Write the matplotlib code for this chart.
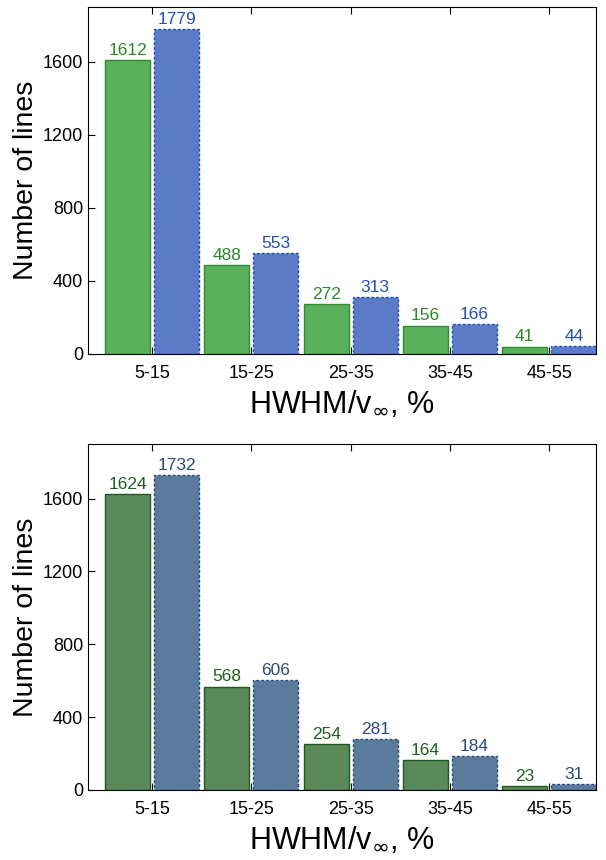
import matplotlib
matplotlib.use("Agg")
import numpy as np
import matplotlib.pyplot as plt

plt.rcParams["font.family"] = ["Liberation Sans", "DejaVu Sans"]

bins = ["5-15", "15-25", "25-35", "35-45", "45-55"]
top_green = [1612, 488, 272, 156, 41]
top_blue = [1779, 553, 313, 166, 44]
bot_green = [1624, 568, 254, 164, 23]
bot_blue = [1732, 606, 281, 184, 31]

panels = [
    (top_green, top_blue, ("#5bb15b", "#2e8b2e", "#2a8a2a"), ("#5b7bc9", "#1f4fae", "#2450b0")),
    (bot_green, bot_blue, ("#5a8a5a", "#1d5a1d", "#1f5f1f"), ("#5a7b9c", "#27497a", "#2a4a80")),
]

fig = plt.figure(figsize=(6.06, 8.6), dpi=100)
rects = [[88 / 606, 1 - 354 / 860, 508 / 606, 347 / 860],
         [88 / 606, 1 - 790 / 860, 508 / 606, 346 / 860]]

x = np.arange(len(bins))
w = 0.455
off = 0.247
for rect, (g, b, gc, bc) in zip(rects, panels):
    ax = fig.add_axes(rect)
    bg = ax.bar(x - off, g, w, color=gc[0], edgecolor=gc[1], linewidth=1.0)
    bb = ax.bar(x + off, b, w, color=bc[0], edgecolor=bc[1], linewidth=1.0,
                linestyle=(0, (2, 1.5)))
    ax.bar_label(bg, labels=[str(v) for v in g], padding=1.5, color=gc[2], fontsize=12.5)
    ax.bar_label(bb, labels=[str(v) for v in b], padding=1.5, color=bc[2], fontsize=12.5)
    ax.set_xlim(-0.645, 4.47)
    ax.set_ylim(0, 1900)
    ax.set_yticks([0, 400, 800, 1200, 1600])
    ax.set_xticks(x)
    ax.set_xticklabels(bins)
    ax.tick_params(direction="in", top=True, right=False, labelsize=13, length=5)
    ax.tick_params(axis="x", pad=8)
    ax.set_ylabel("Number of lines", fontsize=20.5, labelpad=3)
    ax.set_xlabel(r"HWHM/v$_{\infty}$, %", fontsize=22, labelpad=5)

fig.savefig("out.png", dpi=100)
